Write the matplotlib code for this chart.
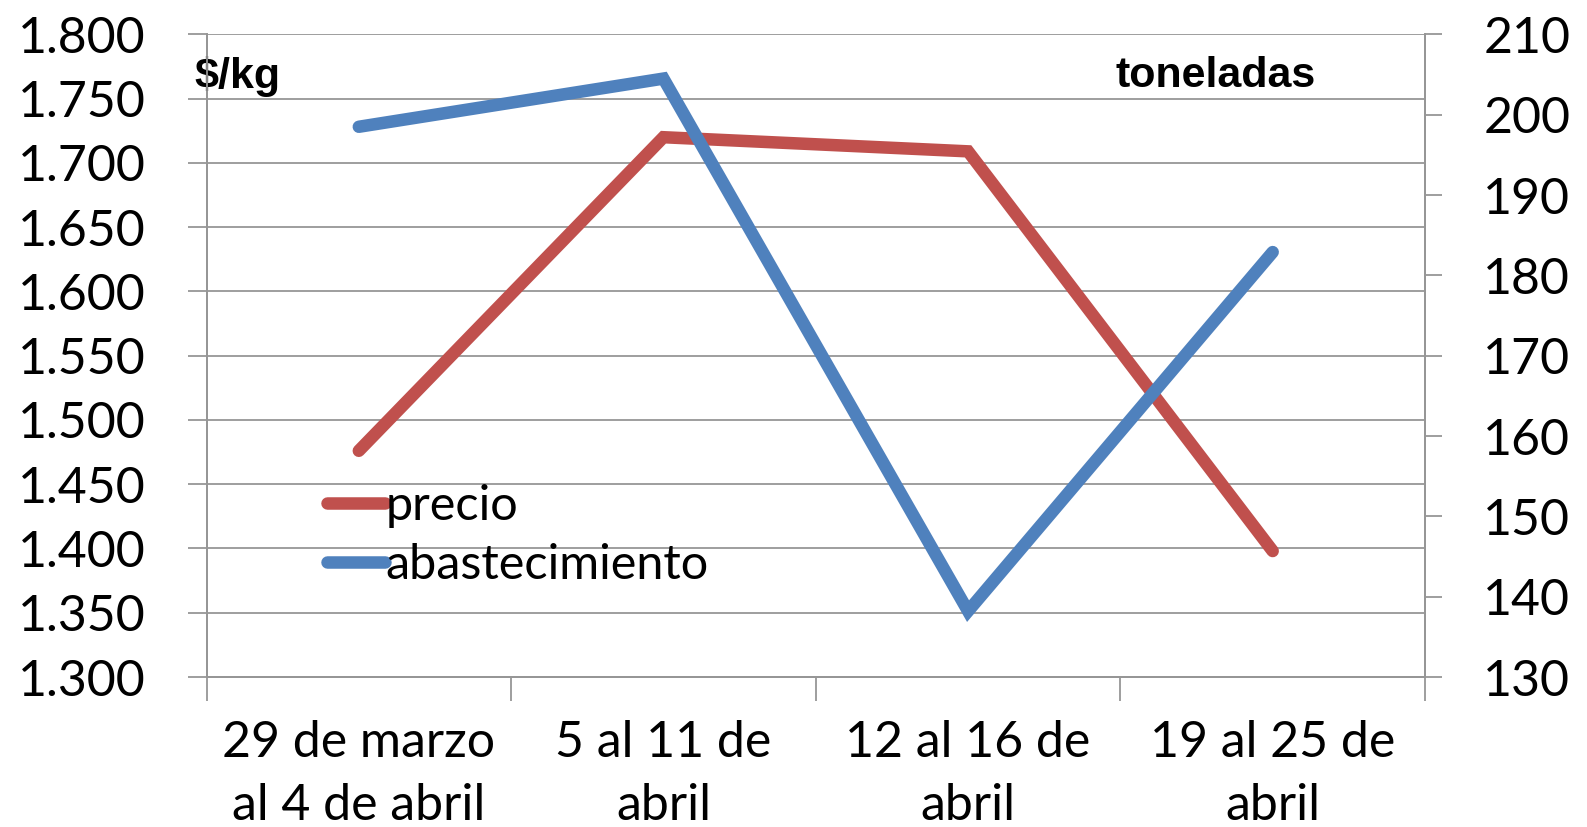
import matplotlib
matplotlib.use("Agg")
import matplotlib.pyplot as plt
from matplotlib.ticker import FixedLocator, FuncFormatter

semanas = ["29 de marzo\nal 4 de abril", "5 al 11 de\nabril", "12 al 16 de\nabril", "19 al 25 de\nabril"]
precio = [1476, 1720, 1709, 1398]            # $/kg
abastecimiento = [198.5, 204.5, 138.2, 182.9]  # toneladas

ROJO = "#C0504D"
AZUL = "#4F81BD"
GRIS = "#969696"
FONT = "Lato"

fig = plt.figure(figsize=(15.87, 8.27), dpi=100)
ax = fig.add_axes([206.5 / 1587, 150 / 827, 1218.5 / 1587, 642.6 / 827])
ax2 = ax.twinx()

x = list(range(len(semanas)))
l1, = ax.plot(x, precio, color=ROJO, lw=9, solid_capstyle="round", solid_joinstyle="miter", label="precio")
l2, = ax2.plot(x, abastecimiento, color=AZUL, lw=9, solid_capstyle="round", solid_joinstyle="miter",
               label="abastecimiento")

ax.set_xlim(-0.5, 3.5)
ax.set_ylim(1300, 1800)
ax2.set_ylim(130, 210)

ax.set_yticks(range(1300, 1801, 50))
ax.yaxis.set_major_formatter(FuncFormatter(lambda v, p: f"{int(v):,}".replace(",", ".")))
ax2.set_yticks(range(130, 211, 10))

ax.set_xticks(x)
ax.set_xticklabels(semanas, fontfamily=FONT, fontsize=36, linespacing=1.45)
ax.xaxis.set_minor_locator(FixedLocator([-0.5, 0.5, 1.5, 2.5, 3.5]))
ax.tick_params(axis="x", which="major", length=0, pad=31)
ax.tick_params(axis="x", which="minor", length=17, width=1.3, color=GRIS)
ax.tick_params(axis="y", length=14, width=1.3, color=GRIS, pad=30, labelsize=36)
ax2.tick_params(axis="y", length=12, width=1.3, color=GRIS, pad=30, labelsize=36)
for lab in ax.get_yticklabels() + ax2.get_yticklabels():
    lab.set_fontfamily(FONT)

ax.grid(axis="y", color=GRIS, lw=1.3)
ax.set_axisbelow(True)
for a in (ax, ax2):
    for s in a.spines.values():
        s.set_color(GRIS)
        s.set_linewidth(1.3)
    a.spines["top"].set_visible(False)

ax.text(-0.01, 0.935, "$/kg", transform=ax.transAxes, fontfamily="Liberation Sans", fontweight="bold",
        fontsize=31, va="center", ha="left")
ax.text(0.91, 0.935, "toneladas", transform=ax.transAxes, fontfamily="Liberation Sans", fontweight="bold",
        fontsize=31, va="center", ha="right")

ax.legend(handles=[l1, l2], loc="upper left", bbox_to_anchor=(0.099, 0.30), frameon=False,
          prop={"family": FONT, "size": 35}, handlelength=1.2, handletextpad=0.0,
          labelspacing=0.3, borderpad=0, borderaxespad=0)

fig.savefig("out.png", dpi=100)
